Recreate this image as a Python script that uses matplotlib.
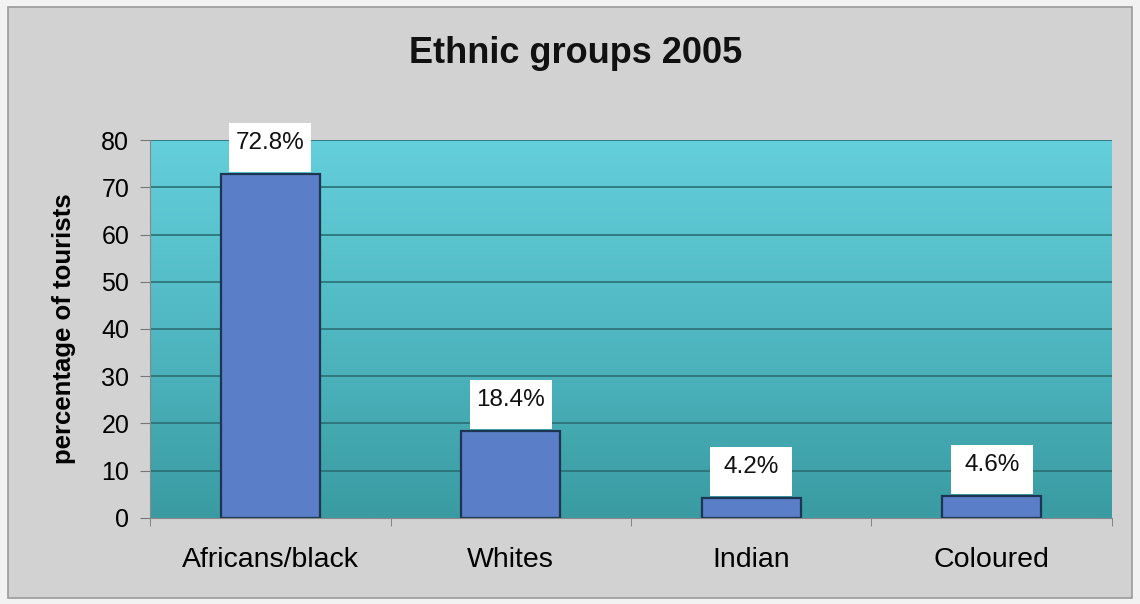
import numpy as np
import matplotlib.pyplot as plt
from matplotlib.colors import LinearSegmentedColormap
from matplotlib.patches import Rectangle

groups = ["Africans/black", "Whites", "Indian", "Coloured"]
shares = [72.8, 18.4, 4.2, 4.6]
y_ticks = [0, 10, 20, 30, 40, 50, 60, 70, 80]

plt.rcParams['font.family'] = ['Liberation Sans', 'DejaVu Sans']

fig = plt.figure(figsize=(11.4, 6.04), dpi=100, facecolor='#f2f2f2')
# grey chart area with a thin frame, kept behind the axes
fig.patches.append(Rectangle((0.007, 0.01), 0.986, 0.978, transform=fig.transFigure,
                             facecolor='#d2d2d2', edgecolor='#9a9a9a', linewidth=1.2,
                             zorder=-5))

ax = fig.add_axes([0.1316, 0.1424, 0.8438, 0.6258])
x = np.arange(len(groups))

# teal gradient background, lighter at the top
cmap = LinearSegmentedColormap.from_list('teal', ['#3a9ba2', '#50b8c2', '#63cfdb'])
grad = np.linspace(0, 1, 256).reshape(-1, 1)
ax.imshow(grad, cmap=cmap, aspect='auto', extent=[-0.5, 3.5, 0, 80],
          origin='lower', zorder=0)

for t in y_ticks[1:]:
    ax.axhline(t, color='#2a6e74', linewidth=1.2, zorder=1)

ax.bar(x, shares, width=0.41, color='#5a7ec8', edgecolor='#1d3550',
       linewidth=1.6, zorder=2)

# value labels on white boxes sitting on top of each bar
for xi, v in zip(x, shares):
    ax.add_patch(Rectangle((xi - 0.17, v + 0.4), 0.34, 10.4, facecolor='white',
                           edgecolor='none', zorder=3, clip_on=False))
    ax.text(xi, v + 6.6, f"{v}%", ha='center', va='center', fontsize=17.5,
            color='#111111', zorder=4, clip_on=False)

ax.set_xlim(-0.5, 3.5)
ax.set_ylim(0, 80)
ax.set_yticks(y_ticks)
ax.set_xticks(x)
ax.set_xticklabels(groups, fontsize=20.5)
ax.set_xticks(np.arange(-0.5, 4.0, 1.0), minor=True)
ax.tick_params(axis='x', which='major', length=0, pad=21)
ax.tick_params(axis='x', which='minor', length=6, color='#777777', direction='out')
ax.tick_params(axis='y', labelsize=18, length=7, color='#777777', pad=8)
for side in ['top', 'right']:
    ax.spines[side].set_visible(False)
for side in ['left', 'bottom']:
    ax.spines[side].set_color('#888888')

ax.set_ylabel("percentage of tourists", fontsize=18.5, fontweight='bold', labelpad=18)
fig.text(0.505, 0.912, "Ethnic groups 2005", ha='center', va='center',
         fontsize=26, fontweight='bold', color='#111111')

fig.savefig("out.png", dpi=100, facecolor=fig.get_facecolor())
